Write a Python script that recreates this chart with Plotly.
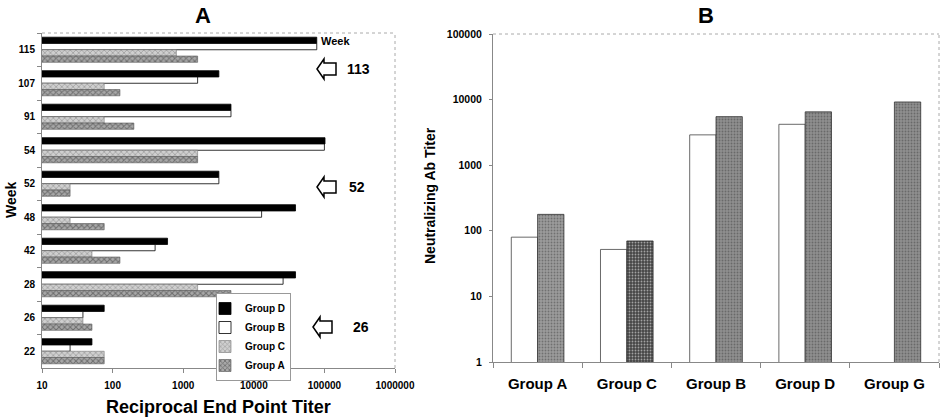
import plotly.graph_objects as go

# ---------------- Data ----------------
weeks = ['115', '107', '91', '54', '52', '48', '42', '28', '26', '22']
group_d = [78000, 3200, 4750, 102000, 3200, 39000, 600, 39000, 76, 51]
group_b = [78000, 1600, 4750, 100000, 3200, 12900, 400, 26000, 38, 25]
group_c = [800, 76, 76, 1600, 25, 25, 51, 1600, 38, 76]
group_a = [1600, 127, 200, 1600, 25, 76, 127, 4750, 51, 76]
a_xticks = [10, 100, 1000, 10000, 100000, 1000000]

b_groups = ['Group A', 'Group C', 'Group B', 'Group D', 'Group G']
b_white = [80, 52, 2900, 4200, None]
b_hatched = [178, 70, 5500, 6500, 9200]
b_yticks = [1, 10, 100, 1000, 10000, 100000]

W, H = 946, 418
FONT = "Liberation Sans"


def px(x):
    return x / W


def py(y):
    return 1 - y / H


fig = go.Figure()

# ---------------- Panel A ----------------
series_a = [
    ('Group D', group_d, dict(color='black', line=dict(color='black', width=0.8))),
    ('Group B', group_b, dict(color='white', line=dict(color='black', width=0.8))),
    ('Group C', group_c, dict(color='#cfcfcf', line=dict(color='#777', width=0.6),
                              pattern=dict(shape='x', fgcolor='#6a6a6a', size=4, solidity=0.35))),
    ('Group A', group_a, dict(color='#a8a8a8', line=dict(color='#555', width=0.6),
                              pattern=dict(shape='x', fgcolor='#333', size=4, solidity=0.45))),
]
for name, vals, marker in series_a:
    fig.add_trace(go.Bar(x=vals, y=weeks, name=name, orientation='h', marker=marker,
                         xaxis='x', yaxis='y'))

# ---------------- Panel B ----------------
fig.add_trace(go.Bar(x=b_groups, y=b_white, marker=dict(color='white', line=dict(color='#444', width=0.8)),
                     width=0.295, offset=-0.295, xaxis='x2', yaxis='y2', showlegend=False))
fig.add_trace(go.Bar(x=b_groups, y=b_hatched,
                     marker=dict(color=['#9c9c9c', '#454545', '#8f8f8f', '#8f8f8f', '#8f8f8f'],
                                 line=dict(color='#333', width=0.8),
                                 pattern=dict(shape='.', fgcolor='#5a5a5a', size=3, solidity=0.3)),
                     width=0.295, offset=0, xaxis='x2', yaxis='y2', showlegend=False))

bold = dict(family=FONT, color='black', weight='bold')

fig.update_layout(
    width=W, height=H,
    margin=dict(l=0, r=0, t=0, b=0),
    paper_bgcolor='white', plot_bgcolor='white',
    barmode='group', bargap=0.25, bargroupgap=0,
    xaxis=dict(type='log', range=[1, 6], domain=[px(42), px(395)], anchor='y',
               tickvals=a_xticks, ticktext=[str(v) for v in a_xticks],
               tickfont=dict(size=10, **bold), showgrid=False, zeroline=False,
               showline=True, linecolor='#888', linewidth=1, ticks='outside', ticklen=4,
               tickcolor='#888', ticklabelstandoff=4, automargin=False),
    yaxis=dict(type='category', categoryorder='array', categoryarray=weeks, autorange='reversed',
               domain=[py(368), py(33)], anchor='x', tickson='boundaries',
               tickfont=dict(size=10, **bold), showgrid=False, zeroline=False,
               showline=True, linecolor='#888', linewidth=1, ticks='outside', ticklen=4,
               tickcolor='#888', ticklabelstandoff=4, automargin=False),
    xaxis2=dict(type='category', domain=[px(493), px(939)], anchor='y2', tickson='boundaries',
                tickfont=dict(size=15, **bold), showgrid=False, zeroline=False,
                showline=True, linecolor='#888', linewidth=1, ticks='outside', ticklen=5,
                tickcolor='#888', ticklabelstandoff=8, automargin=False),
    yaxis2=dict(type='log', range=[0, 5], domain=[py(362), py(34)], anchor='x2',
                tickvals=b_yticks, ticktext=[str(v) for v in b_yticks],
                tickfont=dict(size=10.5, **bold), showgrid=False, zeroline=False,
                showline=True, linecolor='#888', linewidth=1, ticks='outside', ticklen=3,
                tickcolor='#888', ticklabelstandoff=5, automargin=False),
    legend=dict(x=px(291), y=py(293), xanchor='right', yanchor='top',
                bgcolor='white', bordercolor='#999', borderwidth=1,
                font=dict(size=10, **bold), traceorder='normal',
                itemwidth=30, tracegroupgap=0, indentation=-12),
)

shapes = []
# dotted top/right frame lines
for xr, yr in (('x domain', 'y domain'), ('x2 domain', 'y2 domain')):
    shapes.append(dict(type='line', xref=xr, yref=yr, x0=0, x1=1, y0=1, y1=1,
                       line=dict(color='#aaa', width=1, dash='dot')))
    shapes.append(dict(type='line', xref=xr, yref=yr, x0=1, x1=1, y0=0, y1=1,
                       line=dict(color='#aaa', width=1, dash='dot')))


def arrow(tipx, cy):
    pts = [(tipx, cy), (tipx + 7, cy - 10), (tipx + 7, cy - 6), (tipx + 19, cy - 6),
           (tipx + 19, cy + 6), (tipx + 7, cy + 6), (tipx + 7, cy + 10)]
    path = 'M ' + ' L '.join(f'{px(x):.5f},{py(y):.5f}' for x, y in pts) + ' Z'
    return dict(type='path', xref='paper', yref='paper', path=path,
                line=dict(color='black', width=1.5), fillcolor='white')


shapes += [arrow(317, 69), arrow(317, 187), arrow(313, 327)]
fig.update_layout(shapes=shapes)

ann = [
    dict(text='A', x=px(203), y=py(15), font=dict(size=22, **bold)),
    dict(text='B', x=px(706), y=py(16), font=dict(size=22, **bold)),
    dict(text='Week', x=px(335), y=py(41), font=dict(size=11, **bold)),
    dict(text='113', x=px(358), y=py(69), font=dict(size=14, **bold)),
    dict(text='52', x=px(357), y=py(187), font=dict(size=14, **bold)),
    dict(text='26', x=px(361), y=py(327), font=dict(size=14, **bold)),
    dict(text='Reciprocal End Point Titer', x=px(218), y=py(395), yanchor='top',
         font=dict(size=18, **bold)),
    dict(text='Week', x=px(1), y=py(200), xanchor='left', textangle=-90,
         font=dict(size=14, **bold)),
    dict(text='Neutralizing Ab Titer', x=px(430), y=py(196), textangle=-90,
         font=dict(size=14, **bold)),
]
for a in ann:
    a.setdefault('xanchor', 'center')
    a.setdefault('yanchor', 'middle')
    a.update(xref='paper', yref='paper', showarrow=False)
fig.update_layout(annotations=ann)

fig.write_html("out.html")
